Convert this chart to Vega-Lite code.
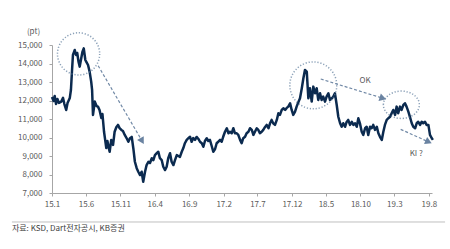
{
  "$schema": "https://vega.github.io/schema/vega-lite/v6.json",
  "width": 380,
  "height": 148,
  "autosize": {"type": "none"},
  "padding": {"left": 52, "top": 45, "right": 18, "bottom": 56},
  "background": "white",
  "config": {
    "view": {"stroke": null},
    "font": "Noto Sans CJK KR",
    "axis": {"labelFont": "Noto Sans CJK KR", "titleFont": "Noto Sans CJK KR", "labelFontSize": 8, "labelColor": "#595959", "domainColor": "#a6a6a6", "tickColor": "#a6a6a6", "tickSize": 3, "grid": false}
  },
  "layer": [
    {
      "data": {"values": [
        {"date":"2015-01-01","value":12190},{"date":"2015-01-08","value":11970},{"date":"2015-01-13","value":12240},{"date":"2015-01-19","value":11810},{"date":"2015-01-25","value":12080},{"date":"2015-02-01","value":11870},{"date":"2015-02-11","value":11940},{"date":"2015-02-19","value":12140},{"date":"2015-02-25","value":11810},{"date":"2015-03-05","value":11490},{"date":"2015-03-11","value":11870},{"date":"2015-03-21","value":12140},{"date":"2015-03-26","value":12570},{"date":"2015-03-31","value":13650},{"date":"2015-04-04","value":14460},{"date":"2015-04-12","value":14730},{"date":"2015-04-18","value":14460},{"date":"2015-04-23","value":14570},{"date":"2015-04-29","value":14080},{"date":"2015-05-04","value":13830},{"date":"2015-05-11","value":14300},{"date":"2015-05-16","value":14620},{"date":"2015-05-22","value":14820},{"date":"2015-05-29","value":14190},{"date":"2015-06-03","value":14080},{"date":"2015-06-10","value":13920},{"date":"2015-06-17","value":13560},{"date":"2015-06-24","value":13020},{"date":"2015-06-28","value":12570},{"date":"2015-07-02","value":11220},{"date":"2015-07-10","value":11940},{"date":"2015-07-18","value":11700},{"date":"2015-07-24","value":11670},{"date":"2015-07-31","value":11490},{"date":"2015-08-08","value":11050},{"date":"2015-08-13","value":11270},{"date":"2015-08-20","value":10310},{"date":"2015-08-25","value":9870},{"date":"2015-08-30","value":9430},{"date":"2015-09-04","value":9810},{"date":"2015-09-09","value":9490},{"date":"2015-09-14","value":9230},{"date":"2015-09-21","value":9870},{"date":"2015-09-29","value":9600},{"date":"2015-10-06","value":10310},{"date":"2015-10-14","value":10570},{"date":"2015-10-21","value":10680},{"date":"2015-10-28","value":10510},{"date":"2015-11-05","value":10410},{"date":"2015-11-12","value":10350},{"date":"2015-11-20","value":10140},{"date":"2015-11-28","value":9970},{"date":"2015-12-06","value":9770},{"date":"2015-12-13","value":9960},{"date":"2015-12-21","value":10030},{"date":"2015-12-28","value":9420},
        {"date":"2016-01-04","value":8690},{"date":"2016-01-12","value":8340},{"date":"2016-01-19","value":8150},{"date":"2016-01-27","value":7970},{"date":"2016-02-03","value":8150},{"date":"2016-02-10","value":7610},{"date":"2016-02-18","value":8150},{"date":"2016-02-25","value":8510},{"date":"2016-03-04","value":8690},{"date":"2016-03-11","value":8620},{"date":"2016-03-19","value":8880},{"date":"2016-03-26","value":8780},{"date":"2016-04-02","value":9050},{"date":"2016-04-10","value":9150},{"date":"2016-04-17","value":9230},{"date":"2016-04-24","value":8880},{"date":"2016-05-02","value":8780},{"date":"2016-05-09","value":8420},{"date":"2016-05-17","value":8240},{"date":"2016-05-24","value":8420},{"date":"2016-05-31","value":8880},{"date":"2016-06-08","value":9150},{"date":"2016-06-15","value":8690},{"date":"2016-06-23","value":8510},{"date":"2016-06-30","value":8780},{"date":"2016-07-08","value":9050},{"date":"2016-07-15","value":9000},{"date":"2016-07-22","value":8950},{"date":"2016-07-30","value":9230},{"date":"2016-08-06","value":9430},{"date":"2016-08-13","value":9690},{"date":"2016-08-21","value":9870},{"date":"2016-08-28","value":9960},{"date":"2016-09-05","value":10040},{"date":"2016-09-12","value":9770},{"date":"2016-09-19","value":9970},{"date":"2016-09-27","value":9870},{"date":"2016-10-04","value":10030},{"date":"2016-10-12","value":9920},{"date":"2016-10-19","value":9770},{"date":"2016-10-27","value":9690},{"date":"2016-11-03","value":9500},{"date":"2016-11-10","value":9810},{"date":"2016-11-18","value":9960},{"date":"2016-11-25","value":9810},{"date":"2016-12-02","value":9870},{"date":"2016-12-10","value":9540},{"date":"2016-12-17","value":9230},{"date":"2016-12-25","value":9380},
        {"date":"2017-01-01","value":9690},{"date":"2017-01-08","value":9770},{"date":"2017-01-16","value":9870},{"date":"2017-01-23","value":9770},{"date":"2017-01-30","value":10040},{"date":"2017-02-07","value":10310},{"date":"2017-02-15","value":10500},{"date":"2017-02-22","value":10230},{"date":"2017-03-01","value":10310},{"date":"2017-03-09","value":10230},{"date":"2017-03-16","value":10500},{"date":"2017-03-23","value":10230},{"date":"2017-03-31","value":10230},{"date":"2017-04-07","value":10140},{"date":"2017-04-15","value":9870},{"date":"2017-04-22","value":9690},{"date":"2017-04-29","value":9960},{"date":"2017-05-07","value":10040},{"date":"2017-05-14","value":10230},{"date":"2017-05-22","value":10310},{"date":"2017-05-29","value":10500},{"date":"2017-06-06","value":10410},{"date":"2017-06-13","value":10140},{"date":"2017-06-20","value":10310},{"date":"2017-06-28","value":10500},{"date":"2017-07-05","value":10410},{"date":"2017-07-12","value":10230},{"date":"2017-07-20","value":10310},{"date":"2017-07-27","value":10410},{"date":"2017-08-04","value":10570},{"date":"2017-08-11","value":10680},{"date":"2017-08-19","value":10500},{"date":"2017-08-26","value":10770},{"date":"2017-09-02","value":10950},{"date":"2017-09-09","value":10770},{"date":"2017-09-17","value":10680},{"date":"2017-09-25","value":10950},{"date":"2017-10-02","value":11310},{"date":"2017-10-09","value":11220},{"date":"2017-10-17","value":11490},{"date":"2017-10-24","value":11580},{"date":"2017-11-01","value":11490},{"date":"2017-11-08","value":11600},{"date":"2017-11-15","value":11670},{"date":"2017-11-23","value":11850},{"date":"2017-11-30","value":11490},{"date":"2017-12-07","value":11220},{"date":"2017-12-15","value":11400},{"date":"2017-12-22","value":11670},{"date":"2017-12-30","value":11920},
        {"date":"2018-01-06","value":12120},{"date":"2018-01-14","value":12660},{"date":"2018-01-21","value":13200},{"date":"2018-01-28","value":13650},{"date":"2018-02-05","value":13560},{"date":"2018-02-12","value":12120},{"date":"2018-02-19","value":12660},{"date":"2018-02-27","value":11940},{"date":"2018-03-06","value":12750},{"date":"2018-03-14","value":12390},{"date":"2018-03-21","value":12660},{"date":"2018-03-28","value":12030},{"date":"2018-04-05","value":12390},{"date":"2018-04-12","value":12030},{"date":"2018-04-19","value":12210},{"date":"2018-04-27","value":11940},{"date":"2018-05-04","value":12210},{"date":"2018-05-12","value":12390},{"date":"2018-05-19","value":12030},{"date":"2018-05-27","value":12120},{"date":"2018-06-03","value":12210},{"date":"2018-06-10","value":12390},{"date":"2018-06-18","value":11760},{"date":"2018-06-25","value":11120},{"date":"2018-07-03","value":10770},{"date":"2018-07-10","value":10580},{"date":"2018-07-17","value":10770},{"date":"2018-07-25","value":10580},{"date":"2018-08-01","value":10840},{"date":"2018-08-08","value":10950},{"date":"2018-08-16","value":10680},{"date":"2018-08-24","value":10850},{"date":"2018-08-31","value":10680},{"date":"2018-09-07","value":10770},{"date":"2018-09-15","value":10580},{"date":"2018-09-22","value":11040},{"date":"2018-09-29","value":10770},{"date":"2018-10-07","value":10310},{"date":"2018-10-14","value":10140},{"date":"2018-10-22","value":10500},{"date":"2018-10-29","value":10580},{"date":"2018-11-05","value":10140},{"date":"2018-11-13","value":10580},{"date":"2018-11-20","value":10500},{"date":"2018-11-27","value":10680},{"date":"2018-12-05","value":10410},{"date":"2018-12-13","value":10580},{"date":"2018-12-20","value":10230},{"date":"2018-12-27","value":10040},
        {"date":"2019-01-04","value":9870},{"date":"2019-01-11","value":10310},{"date":"2019-01-18","value":10680},{"date":"2019-01-26","value":10950},{"date":"2019-02-02","value":11040},{"date":"2019-02-10","value":11120},{"date":"2019-02-17","value":11310},{"date":"2019-02-24","value":11490},{"date":"2019-03-04","value":11220},{"date":"2019-03-11","value":11670},{"date":"2019-03-18","value":11310},{"date":"2019-03-26","value":11670},{"date":"2019-04-02","value":11490},{"date":"2019-04-10","value":11760},{"date":"2019-04-17","value":11850},{"date":"2019-04-24","value":11670},{"date":"2019-05-02","value":11400},{"date":"2019-05-09","value":11120},{"date":"2019-05-17","value":10770},{"date":"2019-05-24","value":10580},{"date":"2019-06-01","value":10500},{"date":"2019-06-08","value":10770},{"date":"2019-06-15","value":10850},{"date":"2019-06-23","value":10680},{"date":"2019-06-30","value":10850},{"date":"2019-07-07","value":10770},{"date":"2019-07-15","value":10850},{"date":"2019-07-22","value":10680},{"date":"2019-07-30","value":10680},{"date":"2019-08-06","value":10140},{"date":"2019-08-14","value":9960},{"date":"2019-08-19","value":9870}
      ]},
      "mark": {"type": "line", "color": "#0b2a4f", "strokeWidth": 2.5, "strokeJoin": "round"},
      "encoding": {
        "x": {"field": "date", "type": "temporal",
          "scale": {"type": "utc", "domain": [{"year": 2015, "month": 1, "date": 1, "utc": true}, {"year": 2019, "month": 8, "date": 15, "utc": true}]},
          "axis": {"title": null, "labelAngle": 0, "labelPadding": 4, "labelOverlap": false, "labelFlush": false, "tickCount": 30,
            "values": [
              {"year":2015,"month":1,"date":1,"utc":true},{"year":2015,"month":6,"date":1,"utc":true},{"year":2015,"month":11,"date":1,"utc":true},{"year":2016,"month":4,"date":1,"utc":true},{"year":2016,"month":9,"date":1,"utc":true},{"year":2017,"month":2,"date":1,"utc":true},{"year":2017,"month":7,"date":1,"utc":true},{"year":2017,"month":12,"date":1,"utc":true},{"year":2018,"month":5,"date":1,"utc":true},{"year":2018,"month":10,"date":1,"utc":true},{"year":2019,"month":3,"date":1,"utc":true},{"year":2019,"month":8,"date":1,"utc":true}
            ],
            "labelExpr": "utcFormat(datum.value, '%y') + '.' + (utcmonth(datum.value) + 1)"}},
        "y": {"field": "value", "type": "quantitative",
          "scale": {"domain": [7000, 15000], "nice": false, "zero": false},
          "axis": {"title": "(pt)", "titleAngle": 0, "titleX": -19, "titleY": -14, "titleAlign": "center", "titleBaseline": "middle", "titleFontSize": 8, "titleFontWeight": "normal", "titleColor": "#595959",
            "labelOverlap": false, "labelFlush": false, "tickCount": 30,
            "values": [7000, 8000, 9000, 10000, 11000, 12000, 13000, 14000, 15000], "format": ",d", "labelPadding": 7}}
      }
    },
    {
      "data": {"values": [{"date": "2015-04-29", "value": 14520}, {"date": "2018-03-06", "value": 12820}]},
      "layer": [
        {"transform": [{"filter": "year(datum.date) == 2015"}],
         "mark": {"type": "point", "shape": "circle", "size": 1780, "filled": false, "stroke": "#5b7a9b", "strokeWidth": 1.5, "strokeDash": [1.2, 1.8]},
         "encoding": {"x": {"field": "date", "type": "temporal"}, "y": {"field": "value", "type": "quantitative"}}},
        {"transform": [{"filter": "year(datum.date) == 2018"}],
         "mark": {"type": "point", "shape": "circle", "size": 2200, "filled": false, "stroke": "#5b7a9b", "strokeWidth": 1.5, "strokeDash": [1.2, 1.8]},
         "encoding": {"x": {"field": "date", "type": "temporal"}, "y": {"field": "value", "type": "quantitative"}}}
      ]
    },
    {
      "data": {"values": [{"date": "2019-04-01", "value": 11770}]},
      "mark": {"type": "point", "shape": "M-1,0A1,0.76,0,1,1,1,0A1,0.76,0,1,1,-1,0Z", "size": 1296, "filled": false, "stroke": "#5b7a9b", "strokeWidth": 1.5, "strokeDash": [1.2, 1.8]},
      "encoding": {"x": {"field": "date", "type": "temporal"}, "y": {"field": "value", "type": "quantitative"}}
    },
    {
      "data": {"values": [
        {"date": "2015-07-25", "value": 13880, "date2": "2016-02-05", "value2": 9810},
        {"date": "2018-04-08", "value": 13160, "date2": "2019-01-09", "value2": 12120},
        {"date": "2019-03-29", "value": 10440, "date2": "2019-07-31", "value2": 9760}
      ]},
      "mark": {"type": "rule", "stroke": "#7189a6", "strokeWidth": 1.2, "strokeDash": [3, 2]},
      "encoding": {"x": {"field": "date", "type": "temporal"}, "y": {"field": "value", "type": "quantitative"}, "x2": {"field": "date2"}, "y2": {"field": "value2"}}
    },
    {
      "data": {"values": [{"date": "2016-02-05", "value": 9810}]},
      "mark": {"type": "point", "shape": "triangle-up", "size": 60, "filled": true, "color": "#6a83a1", "opacity": 1, "angle": 149.5},
      "encoding": {"x": {"field": "date", "type": "temporal"}, "y": {"field": "value", "type": "quantitative"}}
    },
    {
      "data": {"values": [{"date": "2019-01-09", "value": 12120}]},
      "mark": {"type": "point", "shape": "triangle-up", "size": 60, "filled": true, "color": "#6a83a1", "opacity": 1, "angle": 107.3},
      "encoding": {"x": {"field": "date", "type": "temporal"}, "y": {"field": "value", "type": "quantitative"}}
    },
    {
      "data": {"values": [{"date": "2019-07-31", "value": 9760}]},
      "mark": {"type": "point", "shape": "triangle-up", "size": 60, "filled": true, "color": "#6a83a1", "opacity": 1, "angle": 114.3},
      "encoding": {"x": {"field": "date", "type": "temporal"}, "y": {"field": "value", "type": "quantitative"}}
    },
    {
      "data": {"values": [{"date": "2018-10-22", "value": 13050, "label": "OK"}, {"date": "2019-06-06", "value": 9090, "label": "KI ?"}]},
      "mark": {"type": "text", "fontSize": 8, "color": "#595959", "align": "center", "baseline": "middle", "font": "Noto Sans CJK KR"},
      "encoding": {"x": {"field": "date", "type": "temporal"}, "y": {"field": "value", "type": "quantitative"}, "text": {"field": "label"}}
    },
    {
      "data": {"values": [{"date": "2014-07-07", "value": 5433, "date2": "2019-10-12"}]},
      "mark": {"type": "rule", "stroke": "#bfbfbf", "strokeWidth": 1},
      "encoding": {"x": {"field": "date", "type": "temporal"}, "y": {"field": "value", "type": "quantitative"}, "x2": {"field": "date2"}}
    },
    {
      "data": {"values": [{"date": "2014-07-07", "value": 5080, "label": "자료: KSD, Dart전자공시, KB증권"}]},
      "mark": {"type": "text", "fontSize": 8, "color": "#404040", "align": "left", "baseline": "middle", "font": "Noto Sans CJK KR"},
      "encoding": {"x": {"field": "date", "type": "temporal"}, "y": {"field": "value", "type": "quantitative"}, "text": {"field": "label"}}
    }
  ]
}
